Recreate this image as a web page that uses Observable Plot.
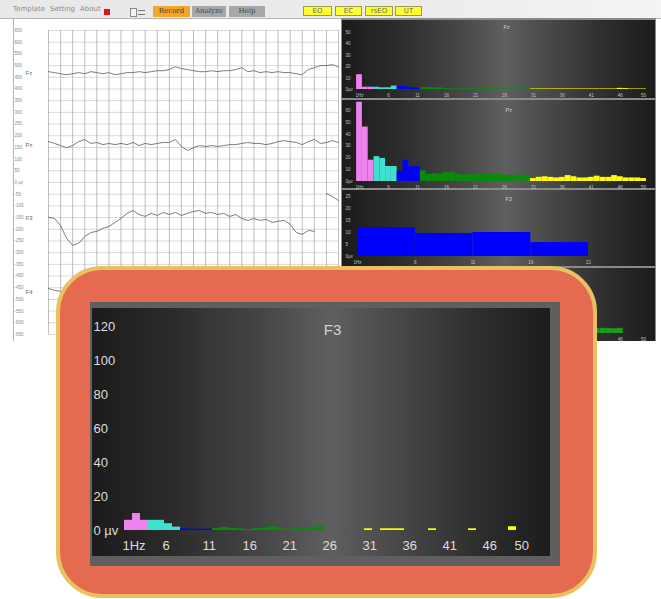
<!DOCTYPE html>
<html>
<head>
<meta charset="utf-8">
<script src="https://cdn.jsdelivr.net/npm/d3@7"></script>
<script src="https://cdn.jsdelivr.net/npm/@observablehq/plot@0.6"></script>
<style>
html,body{margin:0;padding:0;}
body{width:661px;height:599px;position:relative;overflow:hidden;background:#ffffff;font-family:"Liberation Sans",Arial,sans-serif;}
.abs{position:absolute;}
#toolbar{left:0;top:0;width:661px;height:18px;background:linear-gradient(to right,#e8e8e8 0%,#ebebeb 60%,#f4f4f4 100%);border-bottom:1px solid #b5b5b5;}
.menu{position:absolute;top:5px;font-size:7px;color:#8c8c8c;font-family:"DejaVu Sans",sans-serif;}
.btn{position:absolute;top:6px;height:11px;font-size:7px;line-height:11px;text-align:center;font-family:"DejaVu Serif",serif;color:#4a3a20;}
.ybtn{position:absolute;top:6px;height:10px;font-size:7px;line-height:9px;text-align:center;background:#ffff30;border:1px solid #9a9a50;box-sizing:border-box;color:#666;font-family:"DejaVu Sans",sans-serif;}
#eeg{left:0;top:18px;width:341px;height:323px;}
#eegAxisLine{left:13px;top:18px;width:1px;height:323px;background:#b4b4b4;}
#rightArea{left:341px;top:18px;width:315px;height:323px;background:#8a8a8a;}
.dark{background:linear-gradient(to right,#1b1b1b 0%,#2c2c2c 18%,#474747 38%,#5f5f5f 52%,#494949 66%,#2e2e2e 84%,#1c1c1c 100%);}
.panel{position:absolute;left:1px;width:313px;}
#callout{left:56px;top:266px;width:541px;height:332px;box-sizing:border-box;border:4px solid #e9c062;border-radius:46px;background:#e46b4f;}
#mainOuter{left:90px;top:302px;width:470px;height:264px;background:#5f5f5f;}
#mainInner{position:absolute;left:2px;top:6px;width:458px;height:248px;}
svg{display:block;}
</style>
</head>
<body>
<div id="toolbar" class="abs">
  <span class="menu" style="left:13px">Template</span>
  <span class="menu" style="left:50px">Setting</span>
  <span class="menu" style="left:80px">About</span>
  <div class="abs" style="left:104px;top:9px;width:6px;height:6px;background:#e01414;"></div>
  <div class="abs" style="left:130px;top:8px;width:5px;height:7px;border:1px solid #888;background:#f4f4f4;"></div>
  <div class="abs" style="left:138px;top:10px;width:7px;height:3px;border-top:1px solid #777;border-bottom:1px solid #777;"></div>
  <div class="btn" style="left:153px;width:37px;background:#f3a62a;">Record</div>
  <div class="btn" style="left:192px;width:34px;background:#a8a8a8;color:#444;">Analyze</div>
  <div class="btn" style="left:229px;width:36px;background:#a8a8a8;color:#444;">Help</div>
  <div class="ybtn" style="left:303px;width:29px;">EO</div>
  <div class="ybtn" style="left:335px;width:27px;">EC</div>
  <div class="ybtn" style="left:365px;width:28px;">rsEO</div>
  <div class="ybtn" style="left:395px;width:27px;">UT</div>
</div>
<div id="eegAxisLine" class="abs"></div>
<div id="eeg" class="abs"></div>
<div id="rightArea" class="abs">
  <div id="p1" class="panel dark" style="top:2px;height:78px;"></div>
  <div id="p2" class="panel dark" style="top:82px;height:88px;"></div>
  <div id="p3" class="panel dark" style="top:172px;height:76px;"></div>
  <div id="p4" class="panel dark" style="top:250px;height:73px;"></div>
</div>
<div id="callout" class="abs"></div>
<div id="mainOuter" class="abs"><div id="mainInner" class="dark"></div></div>

<script>
// ---------- data ----------
const bins = [1,2,3,4,5,6,7,8,9,10,11,12,13,14,15,16,17,18,19,20,21,22,23,24,25,26,27,28,29,30,31,32,33,34,35,36,37,38,39,40,41,42,43,44,45,46,47,48,49,50];
const bandNames = ["delta","theta","alpha","beta","gamma"];
const bandFrom = [1,4,8,12,31];
const bandTo = [3,7,11,30,50];
const bandColors = ["#ee82ee","#40e0d0","#0000ff","#0a8a0a","#ffff00"];

// enlarged F3 spectrum (µV per 1 Hz bin)
const f3Main = [6,10,6,6,6,4,2,1,0.8,0.8,0.8,1.2,1.8,1.2,1.0,0.6,1.2,1.4,2.2,1.6,0.8,1.2,1.2,1.4,2.2,0,0,0.5,0,0,1.0,0,1.0,1.0,1.0,0,0,0,1.0,0,0,0,0,1.0,0,0,0,0,2.2,0];
// small panel Fz
const fzSmall = [13,2,2,2,1.5,1.5,3,2.5,2.5,1.5,1.2,1.5,1.8,1.5,1.5,0.8,0.6,0.6,0.6,0.6,0.6,0.6,0.6,0.6,0.6,0.6,0.6,0.5,0.5,0.5,0.5,0.5,0.5,0.5,0.5,0.5,0.5,0.5,0.5,0.5,0.5,0.5,0.5,0.5,0.5,1.0,0.8,0.5,0.5,0.5];
// small panel Pz
const pzSmall = [67,46,18,21,19.5,12.7,12.7,8.5,18,12.7,12.7,9,6,6.5,6,7.5,7.5,6,5.5,6,5.5,6,6.8,6.8,6,5.5,5,5,5.5,5,2.5,3.5,4,3.5,3,3.5,5,4,3,3,3.5,4.5,3.5,3.5,5,4,3,3,3,2.5];
// small panel F3 (5 Hz blocks)
const f3BlockFrom = [1,6,11,16];
const f3BlockTo = [6,11,16,21];
const f3BlockVal = [12,9.6,10,5.8];
// small panel 4 (visible part only)
const p4Bins = [42,43,44,45,46];
const p4Val = [2,2.2,2.1,2,2.2];

const hzTicks = [1,6,11,16,21,26,31,36,41,46,50];
const hzTicksP3 = [1,6,11,16,21];
const mainYTicks = [0,20,40,60,80,100,120];
const fzYTicks = [0,10,20,30,40,50];
const pzYTicks = [0,10,20,30,40,50,60];
const p3YTicks = [0,5,10,15,20,25];

// EEG traces (µV, one sample per column step)
const chanNames = ["Fz","Pz","F3","F4"];
const chanBase = [470,158,-154,-470];
const fzTrace = [474,470,465,461,465,470,465,474,470,465,470,461,465,470,470,474,470,474,478,478,483,495,487,483,478,474,474,478,474,478,478,483,491,474,478,470,474,470,474,470,470,465,461,483,491,500,500,504,495];
const pzTrace = [175,167,158,149,158,175,184,167,171,162,167,162,167,162,171,158,167,162,167,171,171,184,154,137,149,158,154,158,154,158,162,162,167,171,167,167,162,167,175,179,175,171,162,175,184,167,171,179,171];
const f3Trace = [-149,-154,-184,-239,-269,-260,-231,-214,-209,-196,-188,-171,-154,-132,-120,-137,-145,-132,-141,-128,-137,-128,-141,-132,-124,-120,-132,-128,-137,-132,-145,-137,-154,-162,-154,-162,-158,-171,-166,-162,-179,-214,-222,-205,-209,NaN,-47,-60,-77];
const f4Trace = [-453,-461,-466,-457,-461,-470,-461,-457,-466,-461];
const eegYTicks = [-650,-600,-550,-500,-450,-400,-350,-300,-250,-200,-150,-100,-50,0,50,100,150,200,250,300,350,400,450,500,550,600,650];

// ---------- helpers ----------
function bandColor(hz) {
  for (let i = 0; i < bandNames.length; i++) if (hz >= bandFrom[i] && hz <= bandTo[i]) return bandColors[i];
  return "#888";
}
function binRows(values) {
  return bins.map((hz, i) => ({x1: hz - 0.5, x2: hz + 0.5, v: values[i], color: bandColor(hz)}));
}
const fmtHz = d => d === 1 ? "1Hz" : String(d);
const FONT = "Liberation Sans, Arial, sans-serif";

// ---------- main enlarged F3 chart ----------
const mainPlot = Plot.plot({
  width: 458, height: 248,
  marginLeft: 36, marginRight: 30, marginTop: 18, marginBottom: 26,
  style: {background: "transparent", color: "#dcdcdc", fontFamily: FONT, overflow: "visible"},
  x: {domain: [1, 50], axis: null, label: null},
  y: {domain: [0, 120], axis: null, label: null},
  color: {type: "identity"},
  marks: [
    Plot.rect(binRows(f3Main), {x1: "x1", x2: "x2", y1: 0, y2: "v", fill: "color"}),
    Plot.axisX({ticks: hzTicks, label: null, tickSize: 0, tickPadding: 10, tickFormat: fmtHz, textAnchor: "start", dx: -6, fontSize: 13, fill: "#dedede"}),
    Plot.axisY({ticks: mainYTicks, label: null, tickSize: 0, tickPadding: 3, tickFormat: d => d === 0 ? "0 µv" : String(d), textAnchor: "start", dx: -32, fontSize: 13, fill: "#dedede"}),
    Plot.text(["F3"], {frameAnchor: "top", dx: 8, dy: -2, fontSize: 15, fill: "#d4d4d4"})
  ]
});
document.getElementById("mainInner").append(mainPlot);

// ---------- small spectrum panels ----------
function smallPanel(id, o) {
  const el = document.getElementById(id);
  const p = Plot.plot({
    width: 313, height: o.h,
    marginLeft: o.ml, marginRight: o.mr, marginTop: o.mt, marginBottom: o.mb,
    style: {background: "transparent", color: "#bdbdbd", fontFamily: FONT, overflow: "visible"},
    x: {domain: o.xDomain, axis: null, label: null},
    y: {domain: o.yDomain, axis: null, label: null},
    color: {type: "identity"},
    marks: [
      Plot.rect(o.rows, {x1: "x1", x2: "x2", y1: 0, y2: "v", fill: "color"}),
      Plot.axisX({ticks: o.xTicks, label: null, tickSize: 0, tickPadding: 4, tickFormat: fmtHz, fontSize: 4.5, fill: "#c0c0c0"}),
      Plot.axisY({ticks: o.yTicks, label: null, tickSize: 0, tickPadding: 3, tickFormat: d => d === 0 ? "0µv" : String(d), textAnchor: "start", dx: -(o.ml - 6), fontSize: 4.5, fill: "#c0c0c0"}),
      Plot.text([o.title], {frameAnchor: "top-left", dx: o.tdx, dy: o.tdy, fontSize: 5.5, fill: "#cfcfcf"})
    ]
  });
  el.append(p);
}

smallPanel("p1", {h: 78, ml: 17, mr: 12, mt: 12, mb: 9, xDomain: [1, 50], yDomain: [0, 50],
  rows: binRows(fzSmall), xTicks: hzTicks, yTicks: fzYTicks, title: "Fz", tdx: 144, tdy: -7});
smallPanel("p2", {h: 88, ml: 17, mr: 12, mt: 10, mb: 7, xDomain: [1, 50], yDomain: [0, 60],
  rows: binRows(pzSmall), xTicks: hzTicks, yTicks: pzYTicks, title: "Pz", tdx: 146, tdy: -2});
smallPanel("p3", {h: 76, ml: 15, mr: 67, mt: 6, mb: 10, xDomain: [1, 21], yDomain: [0, 25],
  rows: f3BlockFrom.map((f, i) => ({x1: f, x2: f3BlockTo[i], v: f3BlockVal[i], color: bandColors[2]})),
  xTicks: hzTicksP3, yTicks: p3YTicks, title: "F3", tdx: 148, tdy: 1});
smallPanel("p4", {h: 73, ml: 17, mr: 12, mt: 6, mb: 8, xDomain: [1, 50], yDomain: [0, 25],
  rows: p4Bins.map((hz, i) => ({x1: hz - 0.5, x2: hz + 0.5, v: p4Val[i], color: "#1f9a1f"})),
  xTicks: hzTicks, yTicks: p3YTicks, title: "F4", tdx: 146, tdy: 1});

// ---------- EEG traces ----------
const eegPlot = Plot.plot({
  width: 341, height: 323,
  marginLeft: 48, marginRight: 3, marginTop: 12, marginBottom: 7,
  style: {background: "transparent", color: "#666", fontFamily: FONT, overflow: "visible"},
  x: {domain: [0, 48], axis: null, label: null},
  y: {domain: [-650, 650], axis: null, label: null},
  marks: [
    Plot.gridY({ticks: eegYTicks, stroke: "#c9c9c9", strokeOpacity: 1, strokeWidth: 0.7}),
    Plot.gridX({ticks: d3.range(0, 49, 2), stroke: "#a2a2a2", strokeOpacity: 1, strokeWidth: 0.7}),
    Plot.axisY({ticks: eegYTicks, label: null, tickSize: 0, tickPadding: 3, textAnchor: "start", dx: -31, fontSize: 4.5, fill: "#8a8a8a",
      tickFormat: d => d === 0 ? "0 µv" : String(d)}),
    Plot.lineY(fzTrace, {stroke: "#5c5c5c", strokeWidth: 0.8}),
    Plot.lineY(pzTrace, {stroke: "#5c5c5c", strokeWidth: 0.8}),
    Plot.lineY(f3Trace, {stroke: "#5c5c5c", strokeWidth: 0.8}),
    Plot.lineY(f4Trace, {stroke: "#5c5c5c", strokeWidth: 0.8}),
    Plot.text(chanNames, {y: (d, i) => chanBase[i], text: d => d, frameAnchor: "left", dx: -23, textAnchor: "start", fontSize: 6, fill: "#6a6a6a"})
  ]
});
document.getElementById("eeg").append(eegPlot);
</script>
</body>
</html>
